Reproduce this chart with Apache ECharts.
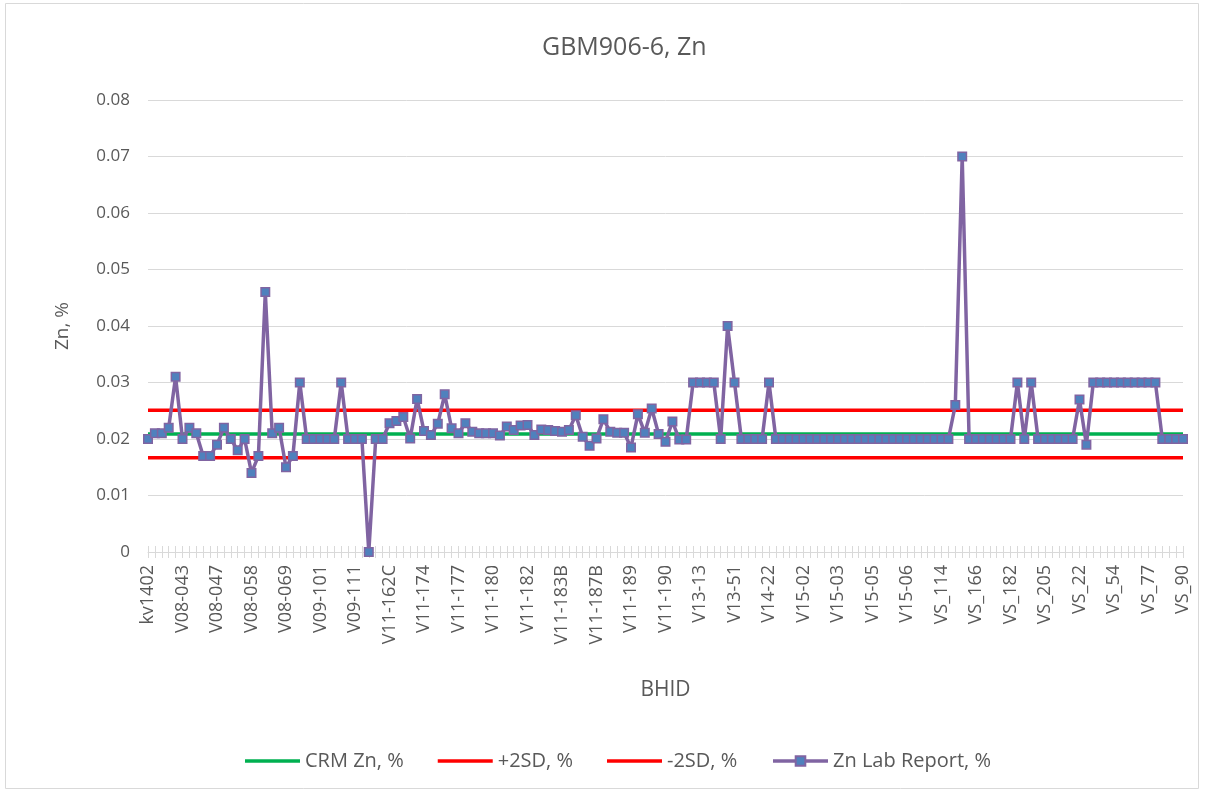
<!DOCTYPE html>
<html>
<head>
<meta charset="utf-8">
<title>GBM906-6, Zn</title>
<script src="https://cdn.jsdelivr.net/npm/echarts@6/dist/echarts.min.js"></script>
<style>
  html, body { margin: 0; padding: 0; background: #fff; }
  #chart { width: 1205px; height: 792px; }
</style>
</head>
<body>
<div id="chart"></div>
<script>
// labels shown on the axis (every 5th sample)
const tickLabels = [
  'kv1402', 'V08-043', 'V08-047', 'V08-058', 'V08-069', 'V09-101', 'V09-111',
  'V11-162C', 'V11-174', 'V11-177', 'V11-180', 'V11-182', 'V11-183B', 'V11-187B',
  'V11-189', 'V11-190', 'V13-13', 'V13-51', 'V14-22', 'V15-02', 'V15-03', 'V15-05',
  'V15-06', 'VS_114', 'VS_166', 'VS_182', 'VS_205', 'VS_22', 'VS_54', 'VS_77', 'VS_90'
]

// Zn lab report, % (151 samples)
const znLab = [
  0.020, 0.021, 0.021, 0.022, 0.031, 0.020, 0.022, 0.021, 0.017, 0.017,
  0.019, 0.022, 0.020, 0.018, 0.020, 0.014, 0.017, 0.046, 0.021, 0.022,
  0.015, 0.017, 0.030, 0.020, 0.020, 0.020, 0.020, 0.020, 0.030, 0.020,
  0.020, 0.020, 0.000, 0.020, 0.020, 0.0228, 0.0232, 0.0239, 0.0201, 0.0271,
  0.0214, 0.0207, 0.0227, 0.0279, 0.0219, 0.0210, 0.0228, 0.0213, 0.0210, 0.0210,
  0.0210, 0.0206, 0.0222, 0.0216, 0.0224, 0.0225, 0.0207, 0.0217, 0.0216, 0.0214,
  0.0213, 0.0216, 0.0242, 0.0204, 0.0188, 0.0201, 0.0235, 0.0213, 0.0211, 0.0211,
  0.0185, 0.0244, 0.0211, 0.0254, 0.0209, 0.0195, 0.0231, 0.0199, 0.0199, 0.030,
  0.030, 0.030, 0.030, 0.020, 0.040, 0.030, 0.020, 0.020, 0.020, 0.020,
  0.030, 0.020, 0.020, 0.020, 0.020, 0.020, 0.020, 0.020, 0.020, 0.020,
  0.020, 0.020, 0.020, 0.020, 0.020, 0.020, 0.020, 0.020, 0.020, 0.020,
  0.020, 0.020, 0.020, 0.020, 0.020, 0.020, 0.020, 0.026, 0.070, 0.020,
  0.020, 0.020, 0.020, 0.020, 0.020, 0.020, 0.030, 0.020, 0.030, 0.020,
  0.020, 0.020, 0.020, 0.020, 0.020, 0.027, 0.019, 0.030, 0.030, 0.030,
  0.030, 0.030, 0.030, 0.030, 0.030, 0.030, 0.030, 0.020, 0.020, 0.020,
  0.020
]

// certified value and control limits
const crmZn = 0.0209
const plus2SD = 0.0251
const minus2SD = 0.0167

// only every 5th BHID is readable on the picture
const bhid = znLab.map((_, i) => (i % 5 === 0 ? tickLabels[i / 5] : ''))
const flat = v => znLab.map(() => v)

const font = 'Open Sans, Noto Sans, sans-serif'
const grey = '#595959'
// plain thick line for the legend of the limit series
const lineIcon = 'path://M0,0 L55,0 L55,3.5 L0,3.5 Z'

const chart = echarts.init(document.getElementById('chart'))

chart.setOption({
  animation: false,
  title: {
    text: 'GBM906-6, Zn',
    left: 537,
    top: 30,
    textStyle: { fontFamily: font, fontSize: 25, fontWeight: 'normal', color: grey }
  },
  legend: {
    bottom: 16,
    left: 240,
    itemWidth: 55,
    itemHeight: 12,
    itemGap: 34,
    textStyle: { fontFamily: font, fontSize: 20, color: grey },
    data: [
      { name: 'CRM Zn, %', icon: lineIcon },
      { name: '+2SD, %', icon: lineIcon },
      { name: '-2SD, %', icon: lineIcon },
      { name: 'Zn Lab Report, %', lineStyle: { width: 3.5 } }
    ]
  },
  grid: { left: 148, right: 22, top: 100, bottom: 240, containLabel: false },
  xAxis: [{
    type: 'category',
    data: bhid,
    boundaryGap: false,
    name: 'BHID',
    nameLocation: 'middle',
    nameGap: 128,
    nameTextStyle: { fontFamily: font, fontSize: 21, color: grey },
    axisLine: { lineStyle: { color: '#d9d9d9', width: 1 } },
    axisTick: { show: true, interval: 0, length: 6, lineStyle: { color: '#d9d9d9' } },
    axisLabel: {
      interval: 4,
      rotate: 90,
      margin: 13,
      fontFamily: font,
      fontSize: 18,
      color: grey
    },
    splitLine: { show: false }
  }, {
    // upper half of the cross tick marks
    type: 'category',
    data: bhid,
    position: 'bottom',
    boundaryGap: false,
    axisLine: { show: false },
    axisTick: { show: true, inside: true, interval: 0, length: 6, lineStyle: { color: '#d9d9d9' } },
    axisLabel: { show: false },
    splitLine: { show: false }
  }],
  yAxis: {
    type: 'value',
    min: 0,
    max: 0.08,
    interval: 0.01,
    name: 'Zn, %',
    nameLocation: 'middle',
    nameRotate: 90,
    nameGap: 76,
    nameTextStyle: { fontFamily: font, fontSize: 19, color: grey },
    axisLine: { show: false },
    axisTick: { show: false },
    axisLabel: { margin: 18, fontFamily: font, fontSize: 17, color: grey },
    splitLine: { lineStyle: { color: '#d9d9d9', width: 1 } }
  },
  series: [
    {
      name: 'CRM Zn, %',
      type: 'line',
      data: flat(crmZn),
      symbol: 'none',
      lineStyle: { color: '#00b050', width: 3.5 },
      itemStyle: { color: '#00b050' },
      z: 2
    },
    {
      name: '+2SD, %',
      type: 'line',
      data: flat(plus2SD),
      symbol: 'none',
      lineStyle: { color: '#ff0000', width: 3.5 },
      itemStyle: { color: '#ff0000' },
      z: 2
    },
    {
      name: '-2SD, %',
      type: 'line',
      data: flat(minus2SD),
      symbol: 'none',
      lineStyle: { color: '#ff0000', width: 3.5 },
      itemStyle: { color: '#ff0000' },
      z: 2
    },
    {
      name: 'Zn Lab Report, %',
      type: 'line',
      data: znLab,
      symbol: 'rect',
      symbolSize: 8.5,
      showAllSymbol: true,
      lineStyle: { color: '#8064a2', width: 3.5 },
      itemStyle: { color: '#4f81bd', borderColor: '#8064a2', borderWidth: 1.5 },
      z: 3
    }
  ],
  graphic: [{
    type: 'rect',
    silent: true,
    shape: { x: 5.5, y: 3.5, width: 1193, height: 785 },
    style: { fill: 'none', stroke: '#d9d9d9', lineWidth: 1 }
  }]
})
</script>
</body>
</html>
